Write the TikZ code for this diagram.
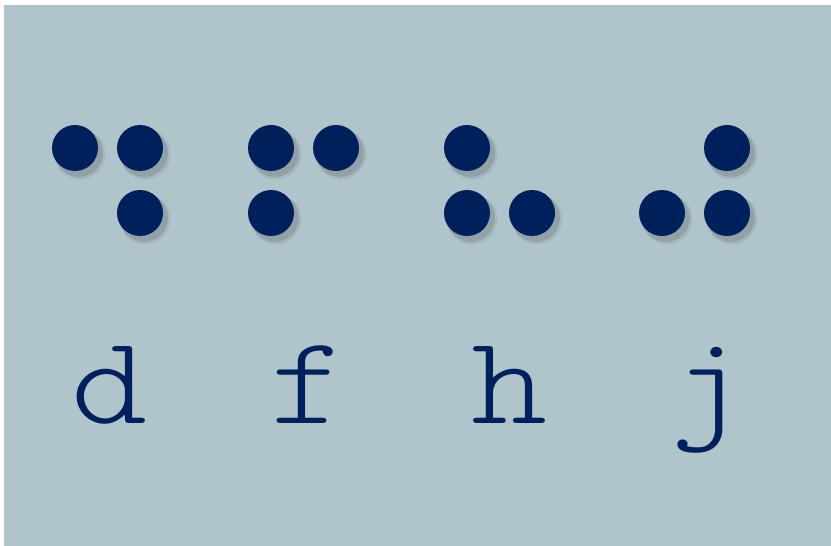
\documentclass[tikz,border=0pt]{standalone}
\usepackage{fontspec}
\newfontfamily\brailletype{Latin Modern Mono Light}
\definecolor{panelblue}{HTML}{B0C4CC}
\definecolor{inkblue}{HTML}{00205B}
\begin{document}
\begin{tikzpicture}[x=1pt,y=-1pt,
    letter/.style={anchor=base,inner sep=0pt,text=inkblue,xscale=1.15,
      font=\brailletype\fontsize{126}{126}\selectfont}]
  \useasboundingbox (0,0) rectangle (831,546);
  \fill[white] (0,0) rectangle (831,546);
  \fill[panelblue] (4,5) rectangle (831,546);
  % braille cells d, f, h, j
  \foreach \px/\py in {75/148,140/148,140/213,
                       271/148,336/148,271/213,
                       467/148,467/213,532/213,
                       727/148,662/213,727/213} {
    \fill[black,opacity=0.06] (\px+5,\py+6) circle (25.5pt);
    \fill[black,opacity=0.12] (\px+4,\py+5) circle (24pt);
    \fill[inkblue] (\px,\py) circle (23pt);
  }
  \node[letter] (d) at (110,423) {d};
  \node[letter] (f) at (309,423) {f};
  \node[letter] (h) at (510,423) {h};
  \node[letter] (j) at (709,423) {j};
\end{tikzpicture}
\end{document}
